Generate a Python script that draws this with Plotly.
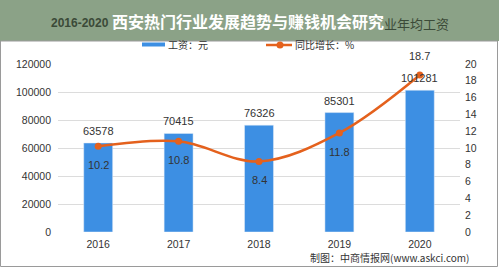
import plotly.graph_objects as go

years = ["2016", "2017", "2018", "2019", "2020"]
wages = [63578, 70415, 76326, 85301, 101281]
growth = [10.2, 10.8, 8.4, 11.8, 18.7]
left_ticks = [0, 20000, 40000, 60000, 80000, 100000, 120000]
right_ticks = [0, 2, 4, 6, 8, 10, 12, 14, 16, 18, 20]

W, H = 499, 269
L, R, T, B = 58, 39, 64, 37
PW, PH = W - L - R, H - T - B


def px(x):
    return (x - L) / PW


def py(y):
    return (H - B - y) / PH


FONT = "Liberation Sans, Noto Sans CJK SC, sans-serif"
CJK = "Noto Sans CJK SC, sans-serif"
BLUE = "#3d8fe3"
ORANGE = "#e4611d"
GREEN = "#8ba287"

fig = go.Figure()
fig.add_trace(go.Bar(x=years, y=wages, width=0.36, marker_color=BLUE,
                     name="工资：元", showlegend=False, yaxis="y"))
fig.add_trace(go.Scatter(x=years, y=growth, mode="lines+markers", yaxis="y2",
                         line=dict(color=ORANGE, width=2.5, shape="spline", smoothing=1),
                         marker=dict(color=ORANGE, size=7),
                         name="同比增长：%", showlegend=False))

annotations = []
for i, v in enumerate(wages):
    annotations.append(dict(x=i, y=v, xref="x", yref="y", text=str(v), showarrow=False,
                            yshift=12, font=dict(size=11, color="#333333", family=FONT)))
for i, g in enumerate(growth):
    shift = 19 if g == max(growth) else -19
    annotations.append(dict(x=i, y=g, xref="x", yref="y2", text=f"{g}", showarrow=False,
                            yshift=shift, font=dict(size=11, color="#333333", family=FONT)))

# original title (partly visible) + overlay title
annotations.append(dict(x=px(49), y=py(23), xref="paper", yref="paper", xanchor="left",
                        yanchor="middle", text="<b>2016-2020</b>", showarrow=False,
                        font=dict(size=12, color="#3b4a38", family=FONT)))
annotations.append(dict(x=px(451), y=py(23), xref="paper", yref="paper", xanchor="right",
                        yanchor="middle", text="业年均工资", showarrow=False,
                        font=dict(size=13, color="#3b4a38", family=CJK)))
annotations.append(dict(x=px(248), y=py(21), xref="paper", yref="paper", xanchor="center",
                        yanchor="middle", text="<b>西安热门行业发展趋势与赚钱机会研究</b>",
                        showarrow=False, font=dict(size=16, color="#ffffff", family=CJK),
                        bgcolor=GREEN, borderpad=0))
# legend texts
annotations.append(dict(x=px(166), y=py(45), xref="paper", yref="paper", xanchor="left",
                        yanchor="middle", text="工资：元", showarrow=False,
                        font=dict(size=10, color="#333333", family=CJK)))
annotations.append(dict(x=px(293), y=py(45), xref="paper", yref="paper", xanchor="left",
                        yanchor="middle", text="同比增长：%", showarrow=False,
                        font=dict(size=10, color="#333333", family=CJK)))
# source
annotations.append(dict(x=px(471), y=py(257), xref="paper", yref="paper", xanchor="right",
                        yanchor="middle", text="制图：中商情报网(www.askci.com)", showarrow=False,
                        font=dict(size=10, color="#333333", family=CJK)))

shapes = [
    dict(type="rect", xref="paper", yref="paper", x0=px(0), x1=px(499), y0=py(41), y1=py(0),
         fillcolor=GREEN, line=dict(width=0), layer="above"),
    dict(type="rect", xref="paper", yref="paper", x0=px(0.5), x1=px(497.5), y0=py(266.5), y1=py(41),
         fillcolor="rgba(0,0,0,0)", line=dict(width=1, color="#9a9a9a"), layer="above"),
    dict(type="rect", xref="paper", yref="paper", x0=px(142), x1=px(165), y0=py(46.5), y1=py(42.5),
         fillcolor=BLUE, line=dict(width=0), layer="above"),
    dict(type="line", xref="paper", yref="paper", x0=px(266), x1=px(292), y0=py(45), y1=py(45),
         line=dict(width=2.5, color=ORANGE), layer="above"),
    dict(type="circle", xref="paper", yref="paper", x0=px(276.5), x1=px(283.5), y0=py(48.5), y1=py(41.5),
         fillcolor=ORANGE, line=dict(width=0), layer="above"),
]

fig.update_layout(
    width=W, height=H,
    margin=dict(l=L, r=R, t=T, b=B, pad=0),
    paper_bgcolor="white", plot_bgcolor="white",
    showlegend=False,
    bargap=0.64,
    xaxis=dict(type="category", range=[-0.5, len(years) - 0.5], showline=False, ticks="",
               showgrid=False, tickfont=dict(size=10.5, color="#333333", family=FONT),
               ticklabelstandoff=4),
    yaxis=dict(range=[0, 120000], tickvals=left_ticks, tickformat="d", showgrid=True,
               gridcolor="#dcdcdc", zeroline=False, showline=False, ticks="",
               tickfont=dict(size=10.5, color="#333333", family=FONT), ticklabelstandoff=6),
    yaxis2=dict(range=[0, 20], tickvals=right_ticks, overlaying="y", side="right",
                showgrid=False, zeroline=False, showline=False, ticks="",
                tickfont=dict(size=10.5, color="#333333", family=FONT), ticklabelstandoff=4),
    annotations=annotations,
    shapes=shapes,
)

fig.write_html("out.html")
